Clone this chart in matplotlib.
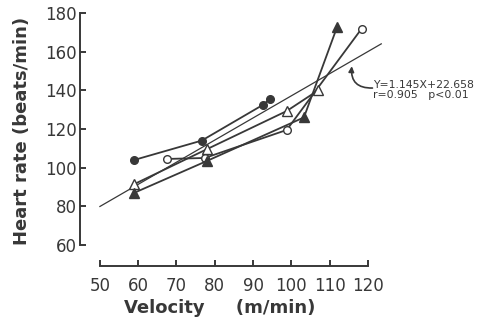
import matplotlib
matplotlib.use("Agg")
import matplotlib.pyplot as plt

# Velocity (m/min) vs heart rate (beats/min), four subjects
x_filled_circle = [59, 76.6, 92.6, 94.4]
y_filled_circle = [104, 114, 132.5, 135.5]

x_open_circle = [67.5, 77.4, 98.8, 118.4]
y_open_circle = [104.5, 105, 119.5, 172]

x_open_tri = [59, 78, 98.8, 107]
y_open_tri = [91.5, 109.6, 129.3, 140]

x_filled_tri = [59, 78, 103.3, 112]
y_filled_tri = [87, 103.5, 126, 173]

# regression line
slope, intercept = 1.145, 22.658
x_reg = [50, 123.5]

xticks = [50, 60, 70, 80, 90, 100, 110, 120]
yticks = [60, 80, 100, 120, 140, 160, 180]

ink = "#383838"

fig = plt.figure(figsize=(4.78, 3.25), dpi=100)
ax = fig.add_axes([80 / 478, 59 / 325, 307 / 478, 257 / 325])
ax.set_xlim(44.8, 125)
ax.set_ylim(49.1, 182.1)

ax.plot(x_reg, [slope * v + intercept for v in x_reg], color=ink, lw=0.9)

ax.plot(x_filled_circle, y_filled_circle, "-o", color=ink, mfc=ink, ms=5.5, lw=1.3)
ax.plot(x_open_circle, y_open_circle, "-o", color=ink, mfc="white", ms=5.5, lw=1.3)
ax.plot(x_open_tri, y_open_tri, "-^", color=ink, mfc="white", ms=6.5, lw=1.3)
ax.plot(x_filled_tri, y_filled_tri, "-^", color=ink, mfc=ink, ms=6.5, lw=1.3)

# equation + curved arrow pointing at the regression line
ax.text(121.4, 140.3, "Y=1.145X+22.658\nr=0.905   p<0.01", fontsize=7.8, color=ink,
        va="center", ha="left", linespacing=1.05, clip_on=False)
ax.annotate("", xy=(115.8, 152.5), xytext=(121.2, 141.2), annotation_clip=False,
            arrowprops=dict(arrowstyle="-|>", color=ink, lw=1.2, shrinkA=0, shrinkB=0,
                            connectionstyle="arc3,rad=-0.55", mutation_scale=8))

for s in ["top", "right"]:
    ax.spines[s].set_visible(False)
ax.spines["left"].set_bounds(60, 180)
ax.spines["bottom"].set_bounds(50, 120)
for s in ["left", "bottom"]:
    ax.spines[s].set_linewidth(1.4)
    ax.spines[s].set_color(ink)

ax.set_xticks(xticks)
ax.set_yticks(yticks)
ax.tick_params(direction="in", length=4, width=1.4, color=ink, labelcolor=ink,
               labelsize=12, pad=8)
ax.tick_params(axis="y", pad=2)

ax.set_xlabel("Velocity     (m/min)", fontsize=13, color=ink, fontweight="bold")
ax.xaxis.set_label_coords((220 - 80) / 307, -0.13)
ax.set_ylabel("Heart rate (beats/min)", fontsize=13, color=ink, fontweight="bold")
ax.yaxis.set_label_coords(-0.16, (266 - 131) / 257)

fig.savefig("out.png", dpi=100)
